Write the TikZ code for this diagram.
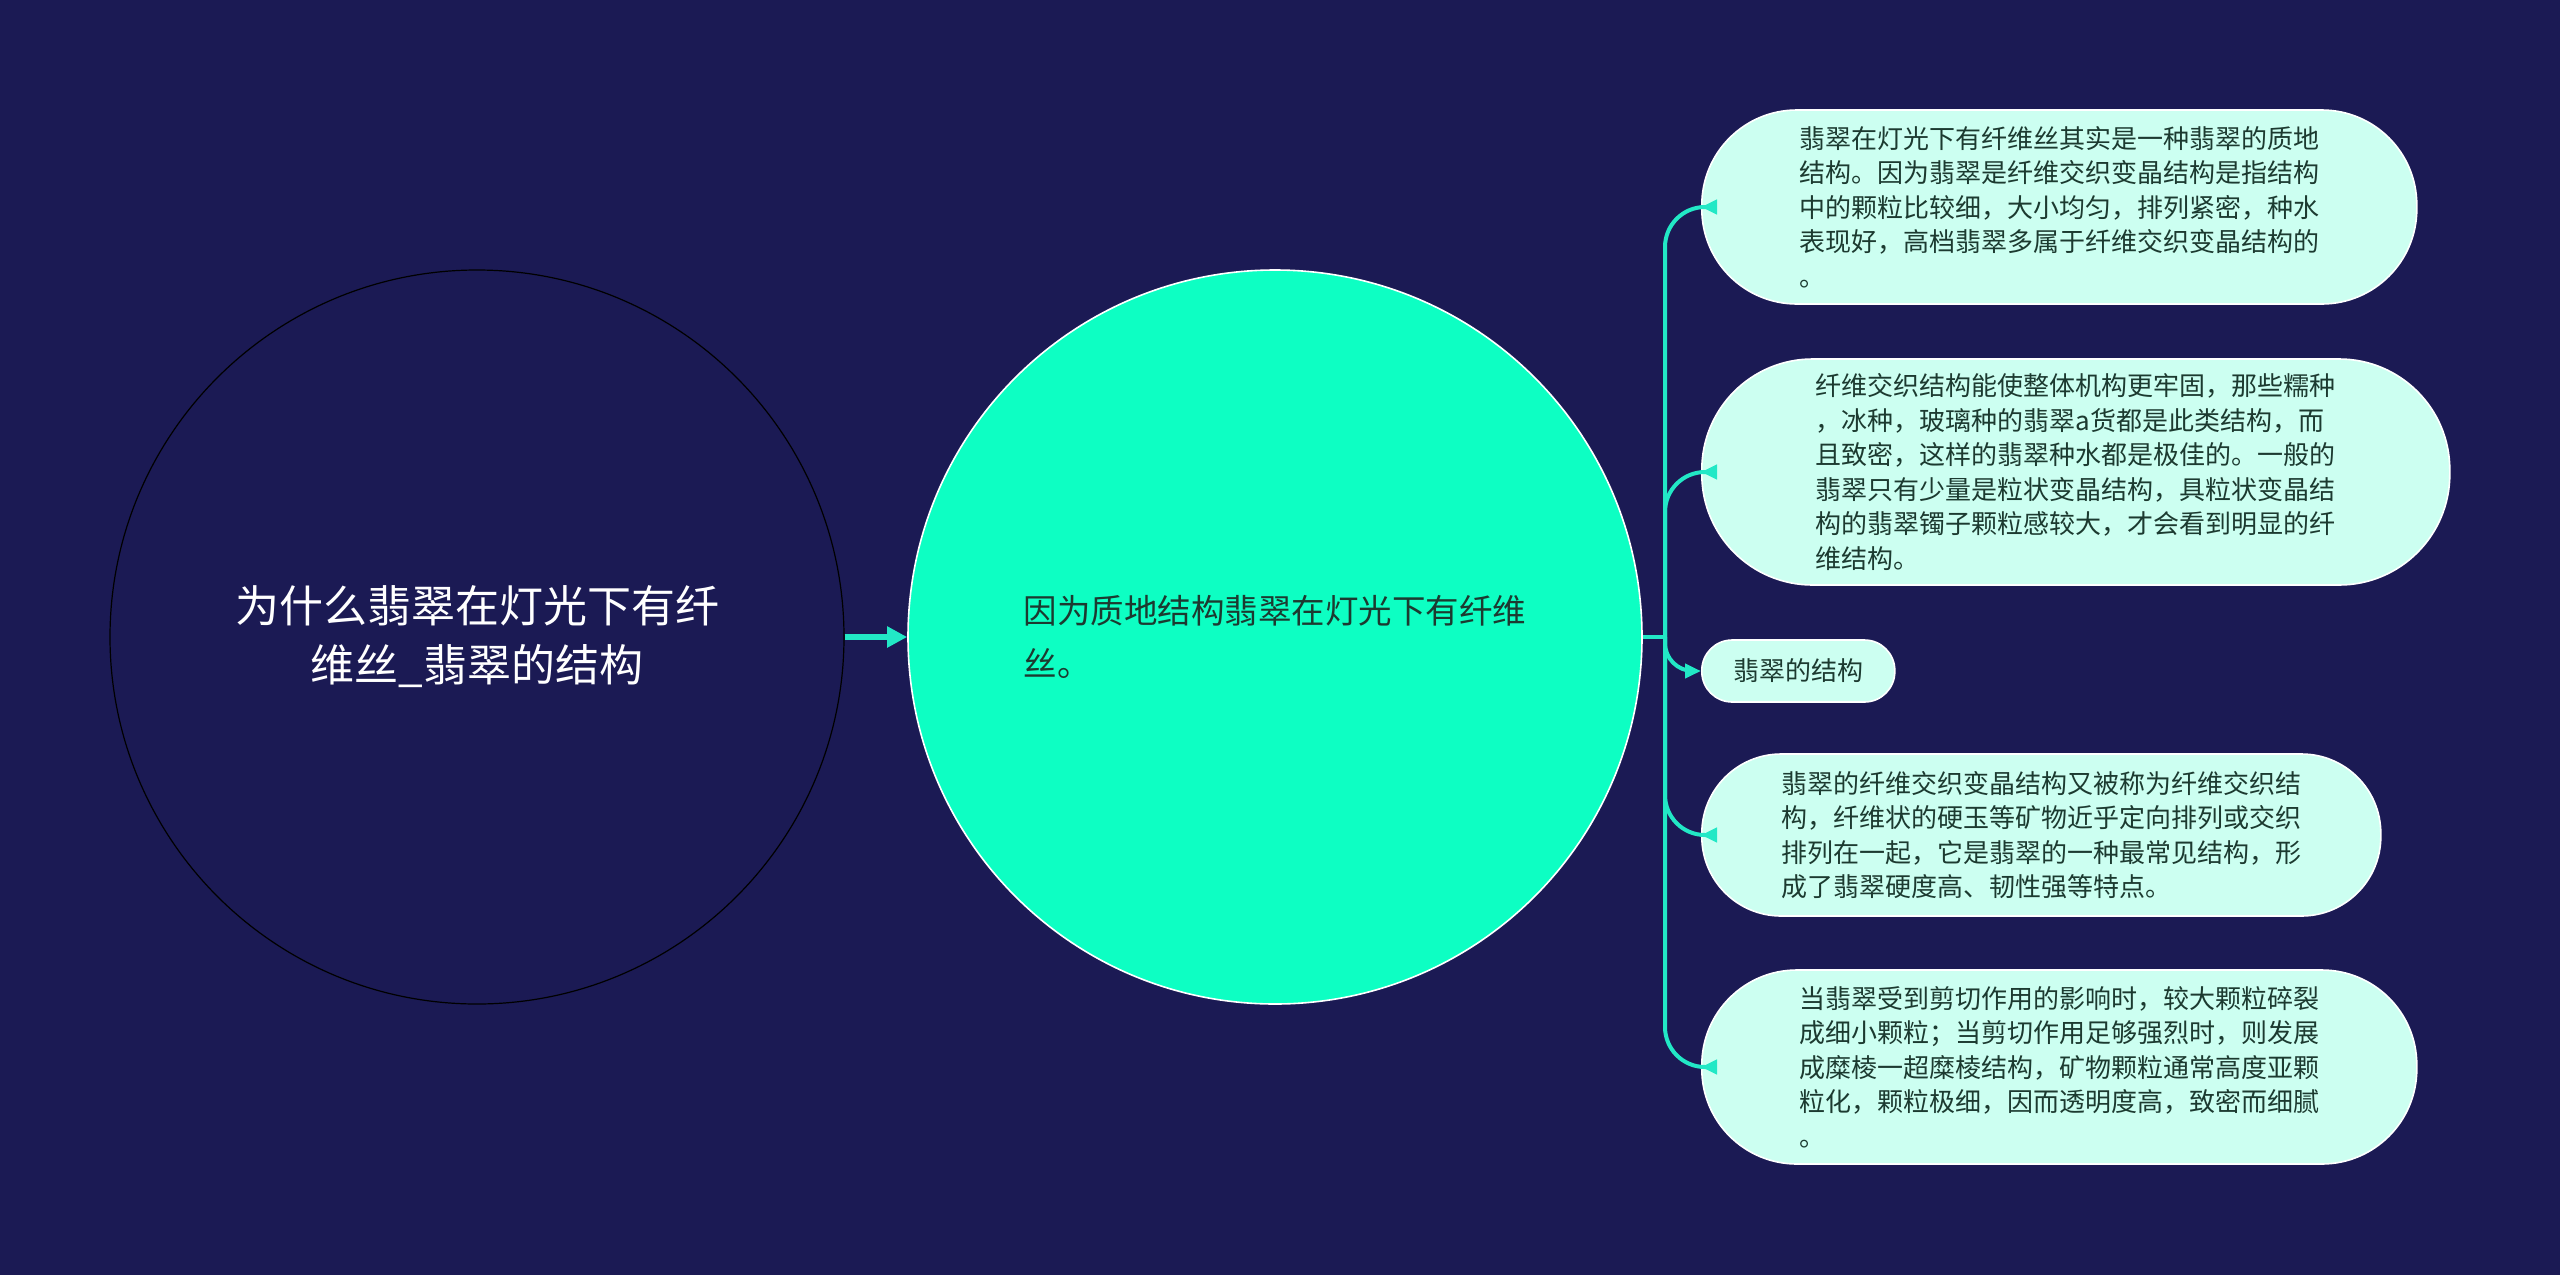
\documentclass[tikz,border=0pt]{standalone}
\usepackage{fontspec}
\setmainfont{Noto Sans CJK SC}
\usetikzlibrary{arrows.meta}

\definecolor{bgnavy}{HTML}{1B1A54}
\definecolor{jade}{HTML}{0DFFC3}
\definecolor{mint}{HTML}{CCFFF1}
\definecolor{wire}{HTML}{22E8C6}
\definecolor{ink}{HTML}{1C3A30}

\begin{document}
\begin{tikzpicture} [
                x=0.5pt,
                y=-0.5pt,
                topic/.style = {circle,draw=black,line width=0.6pt,minimum size=367pt,inner sep=0pt,
                                text=white,align=center,font=\fontsize{22}{29.5}\selectfont},
                reason/.style = {circle,draw=white,line width=0.8pt,fill=jade,minimum size=367pt,inner sep=0pt,
                                 text=ink,align=left,font=\fontsize{16.75}{26.5}\selectfont},
                leaf/.style = {draw=white,line width=0.8pt,fill=mint,anchor=west,inner sep=0pt,
                               text=ink,align=left,font=\fontsize{13}{17.25}\selectfont},
                link/.style = {draw=wire,line width=2.6pt,-{Triangle[length=10pt,width=10pt]}},
                stub/.style = {draw=wire,line width=2pt},
                branch/.style = {draw=wire,line width=2pt,-{Triangle[length=8pt,width=7pt]}}
            ]
            % First the background and the page size
            \fill[bgnavy] (0,0) rectangle (2560,1275);
            \useasboundingbox (0,0) rectangle (2560,1275);
            % the two circles
            \node[topic] (topic) at (477,637) {为什么翡翠在灯光下有纤\\维丝\_翡翠的结构};
            \node[reason] (reason) at (1275,637) {因为质地结构翡翠在灯光下有纤维\\丝。};
            \path[link] (topic) -- (reason);
            % Now the leaves on the right
            \foreach \pos/\name/\boxw/\boxh/\txt in {
                {(1701,207)/quality/357.5/97/{翡翠在灯光下有纤维丝其实是一种翡翠的质地\\结构。因为翡翠是纤维交织变晶结构是指结构\\中的颗粒比较细，大小均匀，排列紧密，种水\\表现好，高档翡翠多属于纤维交织变晶结构的\\。}},
                {(1701,472)/weave/374/113/{纤维交织结构能使整体机构更牢固，那些糯种\\，冰种，玻璃种的翡翠a货都是此类结构，而\\且致密，这样的翡翠种水都是极佳的。一般的\\翡翠只有少量是粒状变晶结构，具粒状变晶结\\构的翡翠镯子颗粒感较大，才会看到明显的纤\\维结构。}},
                {(1701,671)/struct/96.5/31/{翡翠的结构}},
                {(1701,835)/fibre/339.5/81/{翡翠的纤维交织变晶结构又被称为纤维交织结\\构，纤维状的硬玉等矿物近乎定向排列或交织\\排列在一起，它是翡翠的一种最常见结构，形\\成了翡翠硬度高、韧性强等特点。}},
                {(1701,1067)/shear/357.5/97/{当翡翠受到剪切作用的影响时，较大颗粒碎裂\\成细小颗粒；当剪切作用足够强烈时，则发展\\成糜棱一超糜棱结构，矿物颗粒通常高度亚颗\\粒化，颗粒极细，因而透明度高，致密而细腻\\。}}}
                \node[leaf,minimum width=\boxw pt,minimum height=\boxh pt,rounded corners=0.49*\boxh pt] (\name) at \pos {\txt};
            % Connect the hub to every leaf
            \coordinate (hub) at (1665,637);
            \path[stub] (reason.east) -- (hub);
            \foreach \dest/\bend in {quality/20,weave/20,struct/14,fibre/20,shear/20}
                \path[branch,rounded corners=\bend pt] (hub) |- (\dest.west);
        \end{tikzpicture}
\end{document}
